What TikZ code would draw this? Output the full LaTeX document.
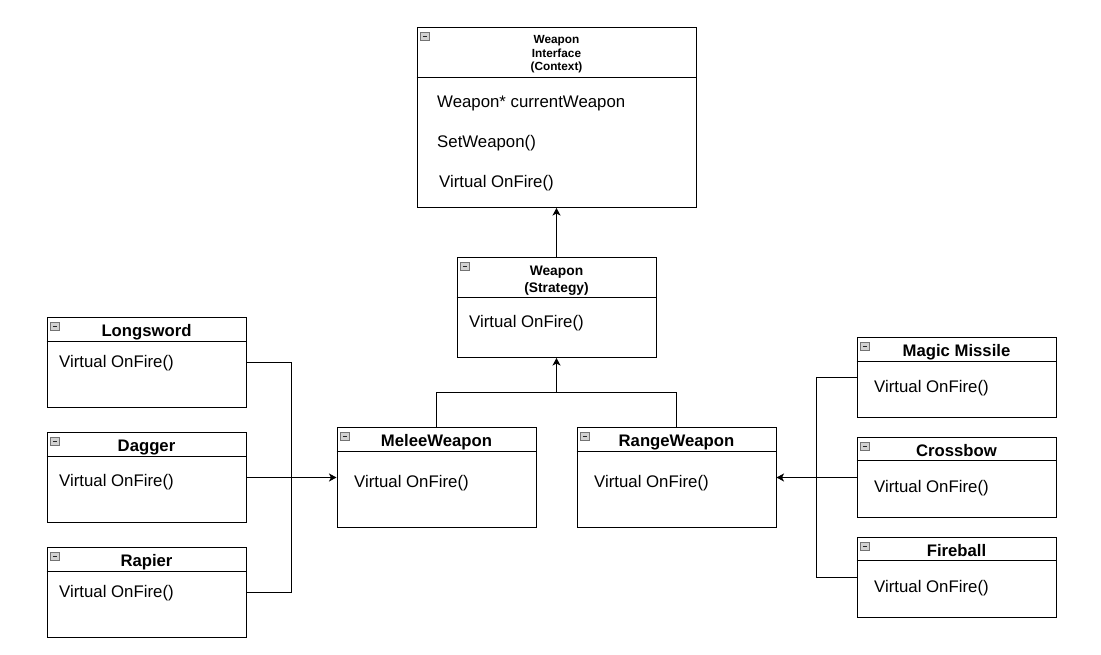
\documentclass[tikz,border=0pt]{standalone}
\usepackage{fontspec}
\setmainfont{Liberation Sans}
\usetikzlibrary{arrows.meta}
\newcommand\umlbox[6]{% name, cx, cy, w, h, divider y
  \node[umlrect, minimum width=#4pt, minimum height=#5pt] (#1) at (#2,#3) {};
  \draw[line width=1pt] (#1.west |- 0,#6) -- (#1.east |- 0,#6);
  \node[umlicon] (#1-icon) at ([xshift=8.5pt,yshift=-9.3pt]#1.north west) {};
  \draw[line width=1pt, black!85] ([xshift=-2.2pt]#1-icon.center) -- ([xshift=2.2pt]#1-icon.center);
}
\begin{document}
\begin{tikzpicture}[x=1pt,y=-1pt,
  umlrect/.style={draw, line width=1pt, inner sep=0pt, fill=white},
  umlicon/.style={draw=black!55, fill=black!18, line width=0.8pt, minimum size=8.5pt, inner sep=0pt},
  ttl/.style={font=\fontsize{16.7}{19}\selectfont\bfseries, anchor=base, inner sep=0pt},
  sttl/.style={font=\fontsize{11.8}{14}\selectfont\bfseries, anchor=base, inner sep=0pt},
  mttl/.style={font=\fontsize{13.8}{16}\selectfont\bfseries, anchor=base, inner sep=0pt},
  txt/.style={font=\fontsize{16.8}{19}\selectfont, anchor=base west, inner sep=0pt},
  conn/.style={line width=1pt},
  arr/.style={line width=1pt, -{Stealth[length=7.5pt,width=8pt,inset=2pt]}}]
\useasboundingbox (0,0) rectangle (1101,655);

% Weapon Interface
\umlbox{wi}{556.5}{117.5}{279}{180}{77.5}
\node[sttl] (wi-t1) at (556.5,43.3) {Weapon};
\node[sttl] (wi-t2) at (556.5,57.3) {Interface};
\node[sttl] (wi-t3) at (556.5,71) {(Context)};
\node[txt] (wi-b1) at (437,107.3) {Weapon* currentWeapon};
\node[txt] (wi-b2) at (437,147.3) {SetWeapon()};
\node[txt] (wi-b3) at (439,187.3) {Virtual OnFire()};

% Weapon Strategy
\umlbox{st}{556.5}{307.5}{199}{100}{297.5}
\node[mttl] (st-t1) at (556.5,275.7) {Weapon};
\node[mttl] (st-t2) at (556.5,292.2) {(Strategy)};
\node[txt] (st-b) at (469,327.3) {Virtual OnFire()};

% Melee / Range
\umlbox{me}{436.5}{477.5}{199}{100}{451}
\node[ttl] (me-t) at (436.5,446.5) {MeleeWeapon};
\node[txt] (me-b) at (354,487.3) {Virtual OnFire()};
\umlbox{rw}{676.5}{477.5}{199}{100}{451}
\node[ttl] (rw-t) at (676.5,446.5) {RangeWeapon};
\node[txt] (rw-b) at (594,487.3) {Virtual OnFire()};

% Left boxes
\umlbox{ls}{146.5}{362.5}{199}{90}{341}
\node[ttl] (ls-t) at (146.5,336) {Longsword};
\node[txt] (ls-b) at (59,367) {Virtual OnFire()};
\umlbox{dg}{146.5}{477.5}{199}{90}{456}
\node[ttl] (dg-t) at (146.5,451.3) {Dagger};
\node[txt] (dg-b) at (59,486.7) {Virtual OnFire()};
\umlbox{ra}{146.5}{592.5}{199}{90}{571}
\node[ttl] (ra-t) at (146.5,566) {Rapier};
\node[txt] (ra-b) at (59,597.3) {Virtual OnFire()};

% Right boxes
\umlbox{mm}{956.5}{377.5}{199}{80}{361}
\node[ttl] (mm-t) at (956.5,356.7) {Magic Missile};
\node[txt] (mm-b) at (874,392.3) {Virtual OnFire()};
\umlbox{cb}{956.5}{477.5}{199}{80}{460.5}
\node[ttl] (cb-t) at (956.5,456.3) {Crossbow};
\node[txt] (cb-b) at (874,492.3) {Virtual OnFire()};
\umlbox{fb}{956.5}{577.5}{199}{80}{560.5}
\node[ttl] (fb-t) at (956.5,556.3) {Fireball};
\node[txt] (fb-b) at (874,592.3) {Virtual OnFire()};

% connectors
\coordinate (jt) at (556.5,392.5);
\coordinate (jl) at (291.5,477.5);
\coordinate (jr) at (816.5,477.5);
\draw[arr] (st.north) -- (wi.south);
\draw[conn] (me.north) |- (jt) -| (rw.north);
\draw[arr] (jt) -- (st.south);
\draw[conn] (ls.east) -| (jl) |- (ra.east);
\draw[arr] (dg.east) -- (me.west);
\draw[conn] (mm.west) -| (jr) |- (fb.west);
\draw[arr] (cb.west) -- (rw.east);
\end{tikzpicture}
\end{document}
